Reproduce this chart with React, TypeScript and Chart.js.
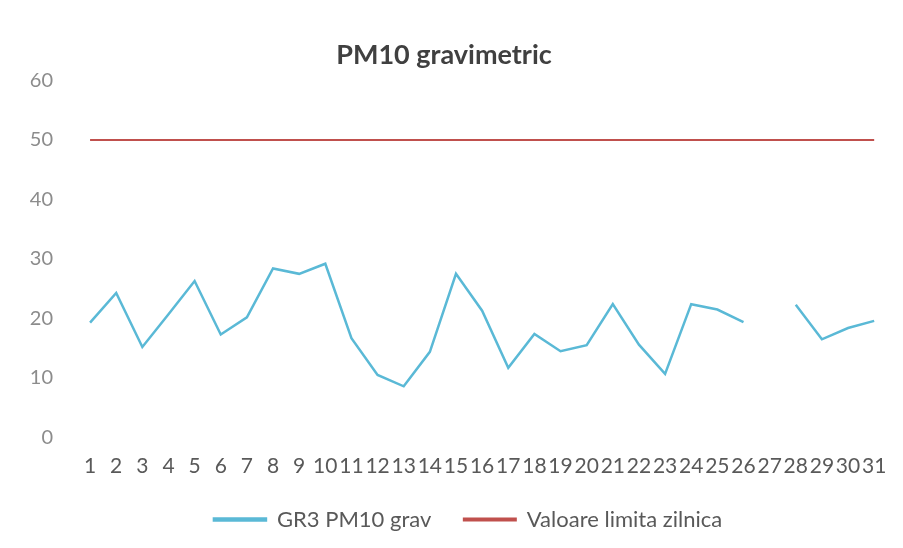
import React, { useEffect, useRef } from "react";
import { Chart, registerables } from "chart.js";

Chart.register(...registerables);

const days: string[] = [
  "1","2","3","4","5","6","7","8","9","10","11","12","13","14","15","16",
  "17","18","19","20","21","22","23","24","25","26","27","28","29","30","31",
];

const pm10Grav: (number | null)[] = [
  19.3, 24.3, 15.2, 20.7, 26.3, 17.3, 20.2, 28.4, 27.5, 29.2, 16.7, 10.5, 8.6, 14.4,
  27.5, 21.3, 11.7, 17.4, 14.5, 15.5, 22.4, 15.6, 10.7, 22.4, 21.5, 19.4, null,
  22.3, 16.5, 18.4, 19.6,
];

const dailyLimit: number[] = days.map(() => 50);

const yTicks = { min: 0, max: 60, step: 10 };

const seriesNames = ["GR3 PM10 grav", "Valoare limita zilnica"];
const chartTitle = "PM10 gravimetric";

// trailing spacing used to mimic the wider gaps of the original legend
const legendSpacers = ["    ", "     "];

export default function App() {
  const ref = useRef<HTMLCanvasElement | null>(null);

  useEffect(() => {
    if (!ref.current) return;
    const chart = new Chart(ref.current, {
      type: "line",
      data: {
        labels: days,
        datasets: [
          {
            label: seriesNames[0],
            data: pm10Grav,
            borderColor: "#5ab9d6",
            backgroundColor: "#5ab9d6",
            borderWidth: 2.5,
            pointRadius: 0,
            tension: 0,
            spanGaps: false,
          },
          {
            label: seriesNames[1],
            data: dailyLimit,
            borderColor: "#c0504d",
            backgroundColor: "#c0504d",
            borderWidth: 2,
            pointRadius: 0,
            tension: 0,
          },
        ],
      },
      options: {
        responsive: false,
        animation: false,
        layout: { padding: { left: 0, right: 15, top: 0, bottom: 7.5 } },
        plugins: {
          title: {
            display: true,
            text: chartTitle,
            color: "#404040",
            font: { family: "Lato", size: 27, weight: "bold" },
            padding: { top: 39, bottom: 9 },
          },
          legend: {
            position: "bottom",
            fullSize: false,
            labels: {
              boxWidth: 52,
              boxHeight: 2,
              color: "#595959",
              font: { family: "Lato", size: 22 },
              padding: 10,
              generateLabels: (c: any) => {
                const items = Chart.defaults.plugins.legend.labels.generateLabels(c);
                items.forEach((it: any, i: number) => {
                  it.text = it.text + (legendSpacers[i] || "");
                });
                return items;
              },
            },
          },
          tooltip: { enabled: false },
        },
        scales: {
          x: {
            offset: true,
            grid: { display: false, drawTicks: false },
            border: { display: false },
            ticks: {
              autoSkip: false,
              maxRotation: 0,
              minRotation: 0,
              padding: 16.4,
              color: "#595959",
              font: { family: "Lato", size: 21 },
            },
            title: {
              display: true,
              text: " ",
              font: { size: 2 },
              padding: { top: 0, bottom: 0.6 },
            },
          },
          y: {
            min: yTicks.min,
            max: yTicks.max,
            grid: { display: false, drawTicks: false },
            border: { display: false },
            ticks: {
              stepSize: yTicks.step,
              padding: 24,
              color: "#8c8c8c",
              font: { family: "Lato", size: 20 },
            },
            afterFit: (scale: any) => {
              scale.width = 77;
            },
          },
        },
      },
    });
    return () => chart.destroy();
  }, []);

  return (
    <div style={{ position: "fixed", left: 0, top: 0, width: 903, height: 548, background: "#fff" }}>
      <canvas ref={ref} width={903} height={548} />
    </div>
  );
}
